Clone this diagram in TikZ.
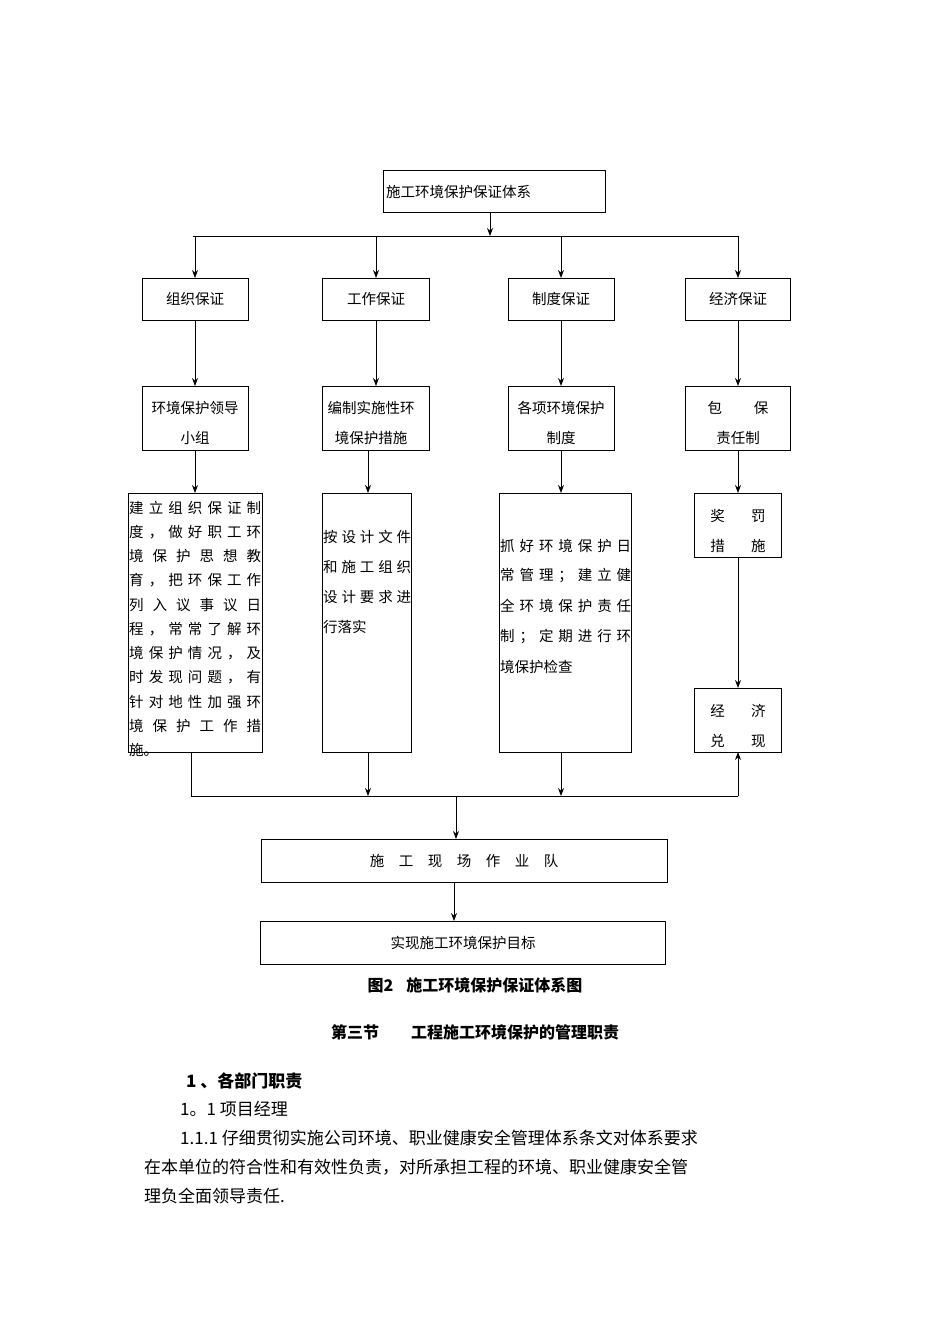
\documentclass[tikz,border=0pt]{standalone}
\usepackage{fontspec}
\setmainfont{Noto Sans CJK SC}
\usetikzlibrary{arrows.meta}
\newcommand\jl[2]{\makebox[#1pt][s]{#2}}
\begin{document}
\begin{tikzpicture}[x=1pt,y=-1pt,
  t/.style={font=\fontsize{14.5}{16}\selectfont,inner sep=0pt},
  ar/.style={-{Stealth[length=8pt,width=6pt]},line width=0.9pt},
  ln/.style={line width=0.9pt}]
\useasboundingbox[fill=white] (0,0) rectangle (950,1344);
% boxes
\draw[line width=1pt] (383,170) rectangle (605,212); \node[t,anchor=west] (top) at (386,192) {施工环境保护保证体系};
\coordinate (topb) at (490,212);
\foreach \x/\w/\n/\lab in {195/142/248/组织保证,376/322/429/工作保证,561/508/614/制度保证,738/685/790/经济保证}{
  \draw[line width=1pt] (\w,278) rectangle (\n,320);
  \node[t] at (\x,299) {\lab};
  \draw[line width=1pt] (\w,386) rectangle (\n,450);
  \draw[ar] (\x,236) -- (\x,278);
  \draw[ar] (\x,320) -- (\x,386);
}
\draw[ln] (193,236) -- (738,236);
\draw[ar] (topb) -- (490,236);
\node[t] at (195,408) {环境保护领导}; \node[t] at (195,438) {小组};
\node[t] at (371,408) {编制实施性环}; \node[t] at (371,438) {境保护措施};
\node[t] at (561,408) {各项环境保护}; \node[t] at (561,438) {制度};
\node[t] at (738,408) {包\hspace{2.2em}保}; \node[t] at (738,438) {责任制};
% row 4
\draw[line width=1pt] (128,493) rectangle (262,752);
\draw[line width=1pt] (322,493) rectangle (411,752);
\draw[line width=1pt] (499,493) rectangle (631,752);
\draw[line width=1pt] (694,493) rectangle (781,557);
\draw[line width=1pt] (694,688) rectangle (781,752);
\draw[ar] (195,450) -- (195,493);
\draw[ar] (368,450) -- (368,493);
\draw[ar] (561,450) -- (561,493);
\draw[ar] (738,450) -- (738,493);
\draw[ar] (738,557) -- (738,688);
\begin{scope}[every node/.style={t,anchor=west}]
\foreach \i/\s in {0/建 立 组 织 保 证 制,1/度 ， 做 好 职 工 环,2/境 保 护 思 想 教,3/育 ， 把 环 保 工 作,4/列 入 议 事 议 日,5/程 ， 常 常 了 解 环,6/境 保 护 情 况 ， 及,7/时 发 现 问 题 ， 有,8/针 对 地 性 加 强 环,9/境 保 护 工 作 措}
  \node at (129,508+24.2*\i) {\jl{132}{\s}};
\node at (129,750) {施。};
\node at (323,537) {\jl{88}{按 设 计 文 件}};
\node at (323,567) {\jl{88}{和 施 工 组 织}};
\node at (323,597) {\jl{88}{设 计 要 求 进}};
\node at (323,627) {行落实};
\node at (500,546) {\jl{131}{抓 好 环 境 保 护 日}};
\node at (500,576) {\jl{131}{常 管 理 ； 建 立 健}};
\node at (500,606) {\jl{131}{全 环 境 保 护 责 任}};
\node at (500,637) {\jl{131}{制 ； 定 期 进 行 环}};
\node at (500,667) {境保护检查};
\end{scope}
\node[t] at (738,516) {奖\hspace{1.8em}罚}; \node[t] at (738,546) {措\hspace{1.8em}施};
\node[t] at (738,711) {经\hspace{1.8em}济}; \node[t] at (738,741) {兑\hspace{1.8em}现};
% bottom connectors
\draw[ln] (191,752) -- (191,796) -- (738,796);
\draw[ar] (368,752) -- (368,796);
\draw[ar] (561,752) -- (561,796);
\draw[ar] (738,796) -- (738,752);
\draw[line width=1pt] (261,839) rectangle (667,882);
\node[t] (team) at (464,861) {施\hspace{1em}工\hspace{1em}现\hspace{1em}场\hspace{1em}作\hspace{1em}业\hspace{1em}队};
\draw[ar] (456,796) -- (456,839);
\draw[line width=1pt] (260,921) rectangle (665,964);
\node[t] (goal) at (463,943) {实现施工环境保护目标};
\draw[ar] (454,882) -- (454,921);
% text
\node[t,font=\fontsize{16}{18}\selectfont\bfseries] at (475,985) {图2\hspace{0.8em}施工环境保护保证体系图};
\node[t,font=\fontsize{16}{18}\selectfont\bfseries] at (475,1032) {第三节\hspace{2em}工程施工环境保护的管理职责};
\begin{scope}[every node/.style={t,anchor=west,font=\fontsize{17}{19}\selectfont}]
\node[font=\fontsize{17}{19}\selectfont\bfseries] at (186,1081) {1 、各部门职责};
\node at (180,1109) {1。1 项目经理};
\node at (180,1138) {1.1.1 仔细贯彻实施公司环境、职业健康安全管理体系条文对体系要求};
\node at (144,1167) {在本单位的符合性和有效性负责，对所承担工程的环境、职业健康安全管};
\node at (144,1196) {理负全面领导责任.};
\end{scope}
\end{tikzpicture}
\end{document}
